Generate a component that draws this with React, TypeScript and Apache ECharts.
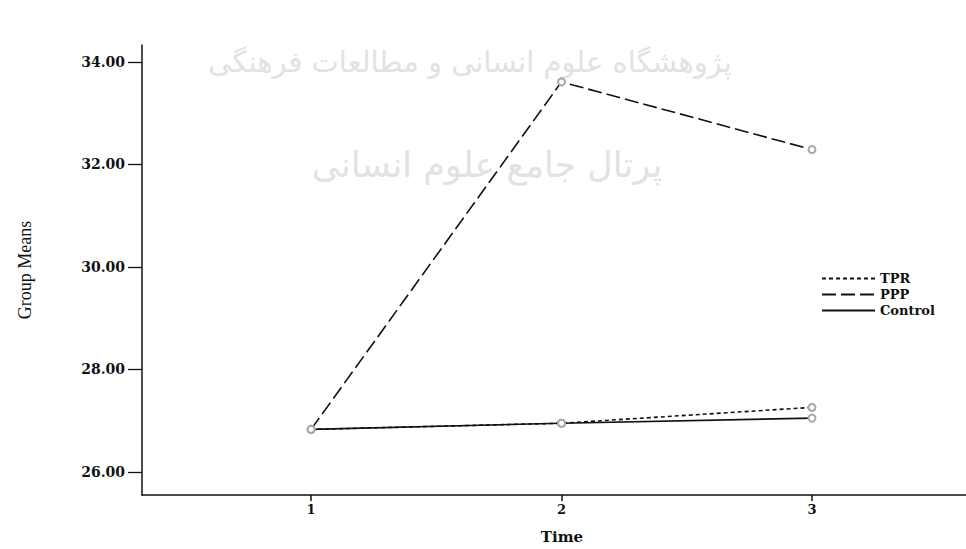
import React, { useEffect, useRef } from "react";
import * as echarts from "echarts";

const times = [1, 2, 3];
const seriesNames = ["TPR", "PPP", "Control"];
const tprMeans = [26.83, 26.95, 27.26];
const pppMeans = [26.83, 33.61, 32.29];
const controlMeans = [26.83, 26.95, 27.05];
const yTicks = [26, 28, 30, 32, 34];
const xTicks = [1, 2, 3];
const yAxisTitle = "Group Means";
const xAxisTitle = "Time";
const watermarkLines = [
  "پژوهشگاه علوم انسانی و مطالعات فرهنگی",
  "پرتال جامع علوم انسانی",
];

const LABEL_FONT = '"DejaVu Serif", "Liberation Serif", serif';

export default function App() {
  const ref = useRef<HTMLDivElement>(null);

  useEffect(() => {
    if (!ref.current) return;
    const chart = echarts.init(ref.current, null, { renderer: "svg" });
    const pair = (vals: number[]) => times.map((t, i) => [t, vals[i]]);
    const lineBase = (name: string, vals: number[], type: any) => ({
      name,
      type: "line",
      data: pair(vals),
      symbol: "emptyCircle",
      symbolSize: 7,
      itemStyle: { color: "#a8a8a8", borderColor: "#a8a8a8", borderWidth: 1 },
      lineStyle: { color: "#111", width: 1.6, type },
      z: 3,
    });

    chart.setOption({
      animation: false,
      backgroundColor: "#ffffff",
      graphic: [
        {
          type: "text",
          x: 470,
          y: 62,
          z: -10,
          style: {
            text: watermarkLines[0],
            font: '29px "DejaVu Sans", sans-serif',
            fill: "#e2e2e2",
            align: "center",
            verticalAlign: "middle",
          },
        },
        {
          type: "text",
          x: 487,
          y: 165,
          z: -10,
          style: {
            text: watermarkLines[1],
            font: '35px "DejaVu Sans", sans-serif',
            fill: "#e2e2e2",
            align: "center",
            verticalAlign: "middle",
          },
        },
      ],
      grid: { left: 142, top: 45, right: 0, bottom: 49, containLabel: false },
      legend: {
        data: seriesNames,
        orient: "vertical",
        left: 816,
        top: 267,
        itemWidth: 53,
        itemHeight: 12,
        itemGap: 3,
        selectedMode: false,
        itemStyle: { opacity: 0 },
        textStyle: {
          fontFamily: LABEL_FONT,
          fontWeight: "bold",
          fontSize: 13,
          color: "#111",
        },
      },
      xAxis: {
        type: "value",
        min: 0.325,
        max: 3.615,
        name: xAxisTitle,
        nameLocation: "middle",
        nameGap: 34,
        nameTextStyle: {
          fontFamily: LABEL_FONT,
          fontWeight: "bold",
          fontSize: 15,
          color: "#111",
          padding: [0, 0, 0, 16],
        },
        axisLine: { show: true, onZero: false, lineStyle: { color: "#111", width: 1.5 } },
        axisTick: { show: true, customValues: xTicks, length: 6, lineStyle: { color: "#111", width: 1.5 } },
        axisLabel: {
          customValues: xTicks,
          margin: 8,
          fontFamily: LABEL_FONT,
          fontWeight: "bold",
          fontSize: 13,
          color: "#111",
        },
        splitLine: { show: false },
      },
      yAxis: {
        type: "value",
        min: 25.55,
        max: 34.33,
        name: yAxisTitle,
        nameLocation: "middle",
        nameGap: 108,
        nameTextStyle: {
          fontFamily: '"Liberation Serif", serif',
          fontSize: 18,
          color: "#111",
        },
        axisLine: { show: true, onZero: false, lineStyle: { color: "#111", width: 1.5 } },
        axisTick: { show: true, customValues: yTicks, length: 14, lineStyle: { color: "#111", width: 1.3 } },
        axisLabel: {
          customValues: yTicks,
          margin: 17,
          fontFamily: LABEL_FONT,
          fontWeight: "bold",
          fontSize: 14,
          color: "#111",
          formatter: (v: number) => v.toFixed(2),
        },
        splitLine: { show: false },
      },
      series: [
        lineBase(seriesNames[0], tprMeans, [4, 3]),
        lineBase(seriesNames[1], pppMeans, [14, 5]),
        lineBase(seriesNames[2], controlMeans, "solid"),
      ],
    });
    return () => chart.dispose();
  }, []);

  return (
    <div
      ref={ref}
      style={{ position: "absolute", left: 0, top: 0, width: 966, height: 549 }}
    />
  );
}
